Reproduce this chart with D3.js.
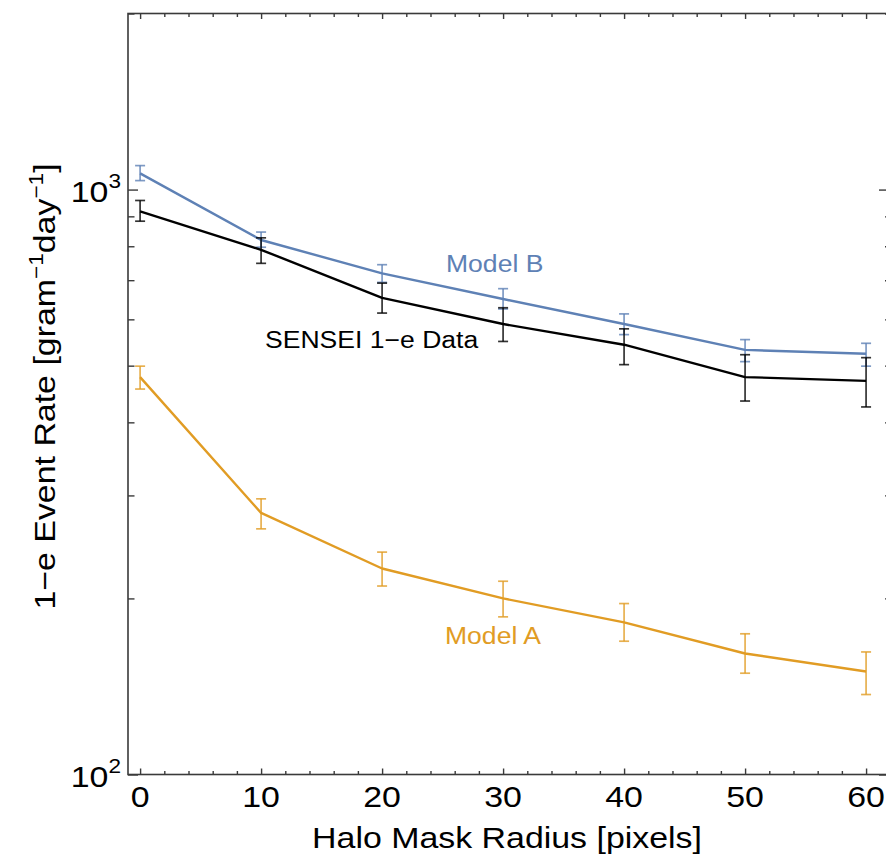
<!DOCTYPE html>
<html>
<head>
<meta charset="utf-8">
<script src="https://cdn.jsdelivr.net/npm/d3@7"></script>
<style>
  html, body { margin: 0; padding: 0; background: #fff; }
  svg { display: block; }
</style>
</head>
<body>
<svg id="chart" width="886" height="856"></svg>
<script>
// Halo mask radius (pixels)
const radius = [0, 10, 20, 30, 40, 50, 60];

// SENSEI measured single-electron event rate with uncertainties
const dataRate = [918, 789, 653, 589, 543, 478, 471];
const dataLo   = [883, 748, 615, 550, 502, 435, 425];
const dataHi   = [958, 827, 692, 628, 578, 522, 516];

// Model B prediction
const modelB   = [1066, 820, 719, 650, 589, 532, 524];
const modelBLo = [1036, 797, 694, 625, 565, 508, 499];
const modelBHi = [1099, 846, 744, 677, 613, 554, 546];

// Model A prediction
const modelA   = [478, 280, 225, 200, 182, 161, 150];
const modelALo = [456, 263, 210, 186, 169, 149, 137];
const modelAHi = [499, 296, 240, 214, 196, 174, 162];

// Axis ticks
const xMajor = [0, 10, 20, 30, 40, 50, 60];
const xMinor = d3.range(0, 63, 2).filter(v => v % 10 !== 0);
const yMajor = [100, 1000];
const yMinor = [200, 300, 400, 500, 600, 700, 800, 900, 2000];
const yMajorLabels = [["10", "2"], ["10", "3"]];

const xTitle = "Halo Mask Radius [pixels]";
const seriesLabels = ["Model B", "SENSEI 1\u2212e Data", "Model A"];

const FONT = "'Liberation Sans', Arial, Helvetica, sans-serif";
const STRETCH = 1.13;
const BLUE = "#5E81B5", ORANGE = "#E19C24", BLACK = "#000000";
const FRAME = "#3a3a3a";

const svg = d3.select("#chart");
const L = 128, R = 891, T = 13.5, B = 774.5;

const x = d3.scaleLinear().domain([-1, 62.06]).range([L, R]);
const y = d3.scaleLog().domain([100, 2000]).range([B, T]);

// Ticks (inward) on all four sides
function tickAxis(axisFn, scale, values, size, transform) {
  const g = svg.append("g").attr("transform", transform)
    .call(axisFn(scale).tickValues(values).tickSize(size).tickFormat(""));
  g.select(".domain").remove();
  g.selectAll(".tick line").attr("stroke", FRAME).attr("stroke-width", 1.4);
  return g;
}
tickAxis(d3.axisBottom, x, xMajor, -6, `translate(0,${B})`);
tickAxis(d3.axisBottom, x, xMinor, -3.5, `translate(0,${B})`);
tickAxis(d3.axisTop, x, xMajor, -5.5, `translate(0,${T})`);
tickAxis(d3.axisTop, x, xMinor, -3.5, `translate(0,${T})`);
tickAxis(d3.axisLeft, y, yMajor, -10, `translate(${L},0)`);
tickAxis(d3.axisLeft, y, yMinor, -6.5, `translate(${L},0)`);
tickAxis(d3.axisRight, y, yMajor, -12, `translate(${R},0)`);
tickAxis(d3.axisRight, y, yMinor, -6, `translate(${R},0)`);

// Frame
svg.append("rect")
  .attr("x", L).attr("y", T).attr("width", R - L).attr("height", B - T)
  .attr("fill", "none").attr("stroke", FRAME).attr("stroke-width", 1.6);

// Text helper: slightly widened sans glyphs
function textAt(px, py, rot, anchor, size, color) {
  const g = svg.append("g")
    .attr("transform", `translate(${px},${py}) rotate(${rot}) scale(${STRETCH},1)`);
  return g.append("text")
    .attr("text-anchor", anchor)
    .attr("font-family", FONT)
    .attr("font-size", size)
    .attr("fill", color);
}

// X tick labels
xMajor.forEach(v => {
  textAt(x(v), 807, 0, "middle", 30, "#000").text(v);
});

// Y tick labels with exponents
yMajor.forEach((v, i) => {
  const t = textAt(121, y(v) + 12.5, 0, "end", 30, "#000");
  t.append("tspan").text(yMajorLabels[i][0]);
  t.append("tspan").attr("font-size", 20).attr("dy", -14).text(yMajorLabels[i][1]);
});

// Axis titles
textAt(507, 848, 0, "middle", 30, "#000").text(xTitle);
{
  const t = textAt(55, 386.5, -90, "middle", 30, "#000");
  t.append("tspan").text("1\u2212e Event Rate [gram");
  t.append("tspan").attr("font-size", 20).attr("dy", -12).text("\u22121");
  t.append("tspan").attr("dy", 12).text("day");
  t.append("tspan").attr("font-size", 20).attr("dy", -12).text("\u22121");
  t.append("tspan").attr("dy", 12).text("]");
}

// Series with error bars
function series(vals, lo, hi, color) {
  const pts = radius.map((r, i) => ({ r, v: vals[i], lo: lo[i], hi: hi[i] }));
  const g = svg.append("g");
  const bars = g.selectAll("g.err").data(pts).enter().append("g")
    .attr("stroke", color).attr("stroke-width", 1.7).attr("stroke-opacity", 0.8);
  bars.append("line")
    .attr("x1", d => x(d.r)).attr("x2", d => x(d.r))
    .attr("y1", d => y(d.lo)).attr("y2", d => y(d.hi));
  bars.append("line")
    .attr("x1", d => x(d.r) - 5).attr("x2", d => x(d.r) + 5)
    .attr("y1", d => y(d.lo)).attr("y2", d => y(d.lo));
  bars.append("line")
    .attr("x1", d => x(d.r) - 5).attr("x2", d => x(d.r) + 5)
    .attr("y1", d => y(d.hi)).attr("y2", d => y(d.hi));
  g.append("path")
    .datum(pts)
    .attr("fill", "none").attr("stroke", color).attr("stroke-width", 2.4)
    .attr("stroke-linejoin", "round")
    .attr("d", d3.line().x(d => x(d.r)).y(d => y(d.v)));
}
series(modelB, modelBLo, modelBHi, BLUE);
series(dataRate, dataLo, dataHi, BLACK);
series(modelA, modelALo, modelAHi, ORANGE);

// In-plot labels
textAt(446, 271.5, 0, "start", 23.5, BLUE).text(seriesLabels[0]);
textAt(265, 347.5, 0, "start", 23.5, "#000").text(seriesLabels[1]);
textAt(445, 644.3, 0, "start", 23.5, ORANGE).text(seriesLabels[2]);
</script>
</body>
</html>
